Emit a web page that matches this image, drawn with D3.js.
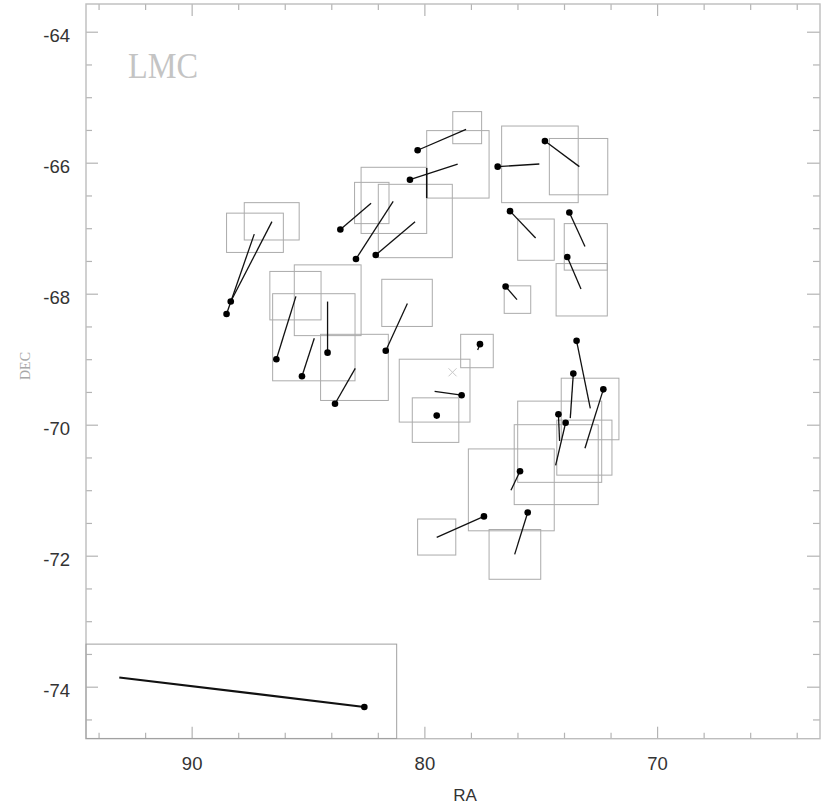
<!DOCTYPE html>
<html>
<head>
<meta charset="utf-8">
<script src="https://cdn.jsdelivr.net/npm/d3@7/dist/d3.min.js"></script>
<style>
  html, body { margin: 0; padding: 0; background: #fff; }
  svg { display: block; }
</style>
</head>
<body>
<svg id="chart" width="830" height="804"></svg>
<script>
// ---------------- DATA ----------------
// proper-motion vectors: start point (dot) and end point, in RA/DEC degrees
const dotRA  = [80.29, 80.62, 83.61, 82.94, 82.09, 76.85, 74.82, 76.32, 73.77, 73.86, 76.51,
                88.32, 88.50, 86.36, 85.26, 84.16, 81.66, 83.84, 77.61, 78.40, 79.47,
                73.46, 73.60, 72.31, 74.24, 73.93, 75.89, 77.44, 75.56];
const dotDEC = [-65.81, -66.26, -67.02, -67.47, -67.41, -66.06, -65.67, -66.74, -66.76, -67.44, -67.89,
                -68.12, -68.31, -69.00, -69.26, -68.90, -68.87, -69.68, -68.77, -69.55, -69.86,
                -68.72, -69.22, -69.46, -69.84, -69.97, -70.71, -71.40, -71.34];
const endRA  = [78.21, 78.57, 82.29, 81.34, 80.40, 75.06, 73.34, 75.22, 73.10, 73.27, 76.02,
                86.55, 87.31, 85.52, 84.73, 84.16, 80.73, 82.97, 77.71, 79.56, 79.47,
                72.87, 73.73, 73.10, 74.19, 74.36, 76.28, 79.47, 76.12];
const endDEC = [-65.49, -66.02, -66.62, -66.59, -66.90, -66.02, -66.06, -67.15, -67.28, -67.93, -68.09,
                -66.90, -67.09, -68.04, -68.68, -68.12, -68.15, -69.14, -68.86, -69.49, -69.91,
                -69.75, -69.90, -70.36, -70.25, -70.62, -71.00, -71.72, -71.98];

// extra segment without a dot
const segRA  = [79.90, 79.90];
const segDEC = [-66.08, -66.54];

// field boxes: RA left/right, DEC top/bottom
const boxRA1  = [88.50, 87.74, 86.64, 85.59, 86.52, 84.46, 81.83, 81.08, 80.52, 78.44, 78.78, 79.90, 82.72, 83.00,
                 81.98, 76.68, 74.63, 75.99, 73.99, 74.34, 76.57, 74.12, 75.99, 76.14, 74.31, 78.11, 77.22, 80.29];
const boxRA2  = [86.06, 85.38, 84.44, 82.72, 82.98, 81.55, 79.66, 78.04, 78.52, 77.04, 77.54, 77.22, 79.90, 81.52,
                 78.80, 73.39, 72.12, 74.42, 72.14, 72.14, 75.43, 71.64, 72.38, 72.53, 71.94, 74.42, 75.00, 78.65];
const boxDEC1 = [-66.77, -66.61, -67.66, -67.56, -68.00, -68.62, -67.78, -69.00, -69.59, -68.62, -65.22, -65.51, -66.07, -66.30,
                 -66.33, -65.44, -65.63, -66.86, -66.93, -67.54, -67.88, -69.29, -69.64, -70.00, -69.93, -70.37, -71.60, -71.44];
const boxDEC2 = [-67.37, -67.18, -68.40, -68.64, -69.33, -69.63, -68.50, -69.96, -70.27, -69.13, -65.71, -66.54, -67.08, -66.93,
                 -67.45, -66.61, -66.49, -67.49, -67.64, -68.34, -68.30, -70.23, -70.88, -71.22, -70.77, -71.62, -72.36, -71.99];

// centre marker
const centerRA = [78.79];
const centerDEC = [-69.20];

// scale reference (legend) box and vector
const legendBoxRA = [94.54, 81.19];
const legendBoxDEC = [-73.35, -74.79];
const legendRA = [93.11, 82.58];
const legendDEC = [-73.86, -74.31];

// axes
const xDomain = [94.54, 63.0];
const yDomain = [-63.577, -74.794];
const xMajor = [90, 80, 70];
const xMinor = [94, 92, 88, 86, 84, 82, 78, 76, 74, 72, 68, 66, 64];
const yMajor = [-64, -66, -68, -70, -72, -74];
const yMinor = [-64.5, -65, -65.5, -66.5, -67, -67.5, -68.5, -69, -69.5, -70.5, -71, -71.5, -72.5, -73, -73.5, -74.5];
const xTickLabels = ["90", "80", "70"];
const yTickLabels = ["-64", "-66", "-68", "-70", "-72", "-74"];
const title = "LMC";
const xTitle = "RA";
const yTitle = "DEC";

// ---------------- DRAW ----------------
const svg = d3.select("#chart");
const L = 86, R = 820, T = 4, B = 738.7;
const x = d3.scaleLinear().domain(xDomain).range([L, R]);
const y = d3.scaleLinear().domain(yDomain).range([T, B]);

const tickColor = "#b4b4b4";
const labelFont = "'Liberation Sans', Arial, sans-serif";

function styleAxis(g) {
  g.select(".domain").remove();
  g.selectAll(".tick line").attr("stroke", tickColor).attr("stroke-width", 1.2);
  g.selectAll(".tick text").attr("fill", "#333").style("font-family", labelFont).style("font-size", "18.5px");
}

// bottom
svg.append("g").attr("transform", `translate(0,${B})`)
  .call(d3.axisBottom(x).tickValues(xMajor).tickSize(-12).tickPadding(18)
    .tickFormat((d, i) => xTickLabels[i]))
  .call(styleAxis);
svg.append("g").attr("transform", `translate(0,${B})`)
  .call(d3.axisBottom(x).tickValues(xMinor).tickSize(-6).tickFormat(""))
  .call(styleAxis);
// top
svg.append("g").attr("transform", `translate(0,${T})`)
  .call(d3.axisTop(x).tickValues(xMajor).tickSize(-12).tickFormat(""))
  .call(styleAxis);
svg.append("g").attr("transform", `translate(0,${T})`)
  .call(d3.axisTop(x).tickValues(xMinor).tickSize(-6).tickFormat(""))
  .call(styleAxis);
// left
const gl = svg.append("g").attr("transform", `translate(${L},0)`)
  .call(d3.axisLeft(y).tickValues(yMajor).tickSize(-12).tickPadding(16)
    .tickFormat((d, i) => yTickLabels[i]))
  .call(styleAxis);
gl.selectAll(".tick text").attr("dy", "0.52em");
svg.append("g").attr("transform", `translate(${L},0)`)
  .call(d3.axisLeft(y).tickValues(yMinor).tickSize(-6).tickFormat(""))
  .call(styleAxis);
// right
svg.append("g").attr("transform", `translate(${R},0)`)
  .call(d3.axisRight(y).tickValues(yMajor).tickSize(-13).tickFormat(""))
  .call(styleAxis);
svg.append("g").attr("transform", `translate(${R},0)`)
  .call(d3.axisRight(y).tickValues(yMinor).tickSize(-7).tickFormat(""))
  .call(styleAxis);

// frame
svg.append("rect").attr("x", L).attr("y", T).attr("width", R - L).attr("height", B - T)
  .attr("fill", "none").attr("stroke", "#bdbdbd").attr("stroke-width", 1.4);

// boxes
const boxes = boxRA1.map((d, i) => ({ ra1: d, ra2: boxRA2[i], de1: boxDEC1[i], de2: boxDEC2[i] }));
svg.append("g").selectAll("rect").data(boxes).join("rect")
  .attr("x", d => x(d.ra1)).attr("y", d => y(d.de1))
  .attr("width", d => x(d.ra2) - x(d.ra1)).attr("height", d => y(d.de2) - y(d.de1))
  .attr("fill", "none").attr("stroke", "#ababab").attr("stroke-width", 1);

// legend box
svg.append("rect")
  .attr("x", x(legendBoxRA[0])).attr("y", y(legendBoxDEC[0]))
  .attr("width", x(legendBoxRA[1]) - x(legendBoxRA[0]))
  .attr("height", y(legendBoxDEC[1]) - y(legendBoxDEC[0]))
  .attr("fill", "none").attr("stroke", "#a0a0a0").attr("stroke-width", 1);

// centre cross
const cx = x(centerRA[0]), cy = y(centerDEC[0]);
svg.append("path").attr("d", `M${cx-4},${cy-4}L${cx+4},${cy+4}M${cx-4},${cy+4}L${cx+4},${cy-4}`)
  .attr("stroke", "#c8c8c8").attr("stroke-width", 1).attr("fill", "none");

// vectors
const vecs = dotRA.map((d, i) => ({ ra0: d, de0: dotDEC[i], ra1: endRA[i], de1: endDEC[i] }));
svg.append("g").selectAll("line").data(vecs).join("line")
  .attr("x1", d => x(d.ra0)).attr("y1", d => y(d.de0))
  .attr("x2", d => x(d.ra1)).attr("y2", d => y(d.de1))
  .attr("stroke", "#111").attr("stroke-width", 1.3);
svg.append("line")
  .attr("x1", x(segRA[0])).attr("y1", y(segDEC[0]))
  .attr("x2", x(segRA[1])).attr("y2", y(segDEC[1]))
  .attr("stroke", "#111").attr("stroke-width", 1.5);
svg.append("g").selectAll("circle").data(vecs).join("circle")
  .attr("cx", d => x(d.ra0)).attr("cy", d => y(d.de0)).attr("r", 3.3).attr("fill", "#000");

// legend vector
svg.append("line")
  .attr("x1", x(legendRA[0])).attr("y1", y(legendDEC[0]))
  .attr("x2", x(legendRA[1])).attr("y2", y(legendDEC[1]))
  .attr("stroke", "#111").attr("stroke-width", 2.2);
svg.append("circle").attr("cx", x(legendRA[1])).attr("cy", y(legendDEC[1])).attr("r", 3.3).attr("fill", "#000");

// titles
svg.append("text").attr("x", 128).attr("y", 77.5)
  .attr("textLength", 70).attr("lengthAdjust", "spacingAndGlyphs")
  .style("font-family", "'Liberation Serif', 'Times New Roman', serif").style("font-size", "36px")
  .attr("fill", "#c4c4c4").text(title);

svg.append("text").attr("x", (L + R) / 2 + 12).attr("y", 801)
  .attr("text-anchor", "middle")
  .style("font-family", labelFont).style("font-size", "17px")
  .attr("fill", "#333").text(xTitle);

svg.append("text").attr("transform", "translate(30,366) rotate(-90)")
  .attr("text-anchor", "middle")
  .style("font-family", "'Liberation Serif', 'Times New Roman', serif").style("font-size", "14px")
  .attr("fill", "#a8a8a8").text(yTitle);
</script>
</body>
</html>
